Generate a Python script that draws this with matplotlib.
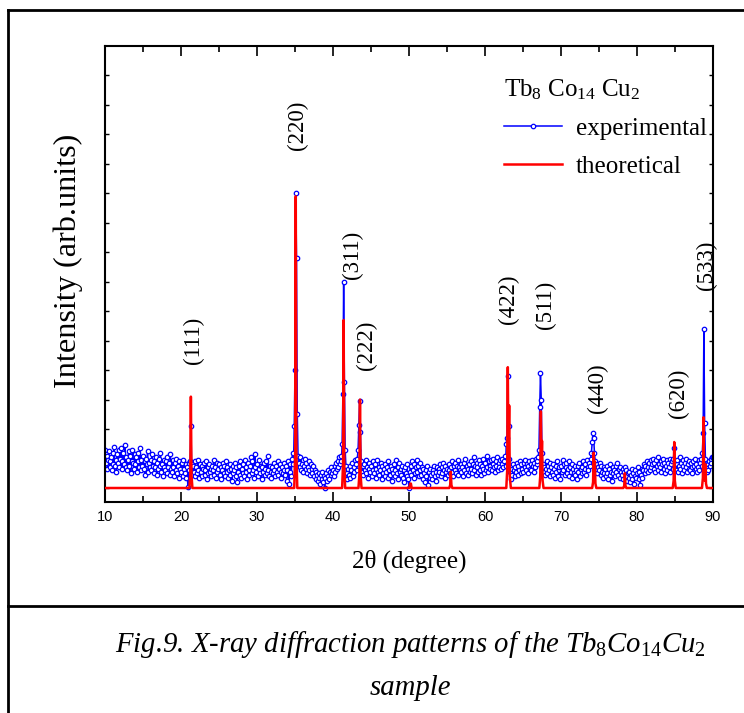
import numpy as np
import matplotlib
matplotlib.use("Agg")
import matplotlib.pyplot as plt
from matplotlib.lines import Line2D

plt.rcParams['font.family'] = ['Liberation Serif', 'DejaVu Serif']
plt.rcParams['mathtext.fontset'] = 'custom'
plt.rcParams['mathtext.rm'] = 'Liberation Serif'
plt.rcParams['mathtext.it'] = 'Liberation Serif:italic'

# experimental pattern, 2theta from 10 to 90 in 0.1 degree steps
exp_start, exp_step = 10.0, 0.1
exp_y = [
    1.30, 0.85, 1.10, 0.65, 0.95, 1.25, 0.70, 0.90, 1.05, 0.60,
    1.20, 0.80, 1.40, 0.75, 0.95, 0.55, 1.15, 0.85, 1.30, 0.70,
    1.00, 1.35, 0.65, 0.90, 1.20, 0.80, 1.45, 0.70, 1.05, 0.60,
    0.95, 1.25, 0.75, 1.10, 0.50, 0.90, 1.30, 0.85, 0.65, 1.15,
    0.80, 1.05, 0.55, 1.20, 0.90, 0.70, 1.35, 0.60, 0.95, 0.75,
    1.10, 0.65, 0.90, 0.45, 1.00, 0.80, 1.25, 0.55, 0.85, 0.70,
    0.95, 0.60, 1.15, 0.75, 0.50, 0.90, 0.70, 1.05, 0.45, 0.85,
    0.65, 1.00, 0.75, 1.20, 0.55, 0.80, 0.40, 0.95, 0.70, 0.60,
    0.90, 0.50, 1.05, 0.70, 0.85, 0.45, 1.15, 0.65, 0.55, 0.95,
    0.70, 0.40, 0.85, 0.60, 1.00, 0.50, 0.75, 0.35, 0.90, 0.65,
    0.55, 0.85, 0.40, 0.95, 0.65, 0.50, 0.80, 0.35, 0.70, 0.05,
    0.60, 0.85, 0.90, 2.10, 0.80, 0.45, 0.75, 0.55, 0.90, 0.40,
    0.70, 0.50, 0.95, 0.60, 0.35, 0.80, 0.55, 0.75, 0.40, 0.65,
    0.85, 0.45, 0.60, 0.90, 0.30, 0.70, 0.50, 0.80, 0.55, 0.65,
    0.40, 0.75, 0.60, 0.95, 0.45, 0.70, 0.35, 0.85, 0.55, 0.65,
    0.80, 0.45, 0.70, 0.30, 0.60, 0.85, 0.50, 0.75, 0.40, 0.90,
    0.55, 0.70, 0.35, 0.60, 0.80, 0.45, 0.65, 0.25, 0.75, 0.50,
    0.60, 0.85, 0.40, 0.70, 0.20, 0.55, 0.75, 0.45, 0.90, 0.35,
    0.65, 0.50, 0.80, 0.40, 0.95, 0.55, 0.70, 0.30, 0.85, 0.60,
    0.45, 0.75, 1.05, 0.50, 0.90, 0.60, 0.35, 1.15, 0.70, 0.55,
    0.80, 0.40, 0.65, 0.95, 0.50, 0.75, 0.30, 0.70, 0.55, 0.85,
    0.45, 0.65, 0.90, 0.50, 1.10, 0.60, 0.40, 0.75, 0.55, 0.35,
    0.70, 0.50, 0.85, 0.60, 0.40, 0.75, 0.55, 0.90, 0.45, 0.65,
    0.80, 0.55, 0.35, 0.70, 0.50, 0.60, 0.85, 0.45, 0.75, 0.25,
    0.60, 0.90, 0.15, 0.55, 0.80, 0.40, 1.00, 1.20, 0.80, 2.10,
    4.00, 10.0, 7.80, 2.50, 1.10, 0.85, 0.70, 1.05, 0.60, 0.80,
    0.95, 0.55, 0.75, 1.00, 0.65, 0.85, 0.50, 0.70, 0.90, 0.60,
    0.45, 0.80, 0.65, 0.50, 0.75, 0.40, 0.60, 0.30, 0.55, 0.45,
    0.25, 0.50, 0.35, 0.15, 0.45, 0.30, 0.55, 0.20, 0.40, 0.00,
    0.35, 0.50, 0.25, 0.60, 0.40, 0.30, 0.55, 0.45, 0.70, 0.50,
    0.60, 0.40, 0.75, 0.55, 0.85, 0.65, 0.90, 0.70, 1.05, 0.80,
    1.10, 0.90, 1.50, 3.20, 7.00, 3.60, 1.30, 0.75, 0.50, 0.30,
    0.65, 0.45, 0.75, 0.35, 0.60, 0.85, 0.40, 0.70, 0.55, 0.95,
    0.80, 0.60, 1.00, 1.30, 2.15, 2.95, 1.90, 0.90, 0.55, 0.75,
    0.45, 0.80, 0.60, 0.95, 0.50, 0.70, 0.35, 0.85, 0.65, 0.55,
    0.75, 0.40, 0.90, 0.60, 0.50, 0.80, 0.35, 0.65, 0.95, 0.55,
    0.70, 0.45, 0.60, 0.85, 0.30, 0.75, 0.50, 0.65, 0.40, 0.80,
    0.55, 0.70, 0.35, 0.90, 0.60, 0.45, 0.75, 0.25, 0.65, 0.50,
    0.80, 0.40, 0.60, 0.95, 0.50, 0.70, 0.30, 0.85, 0.55, 0.65,
    0.45, 0.75, 0.35, 0.60, 0.20, 0.70, 0.50, 0.80, 0.40, 0.30,
    0.00, 0.55, 0.75, 0.45, 0.90, 0.60, 0.35, 0.80, 0.50, 0.70,
    0.95, 0.55, 0.75, 0.40, 0.85, 0.60, 0.45, 0.70, 0.30, 0.65,
    0.50, 0.20, 0.60, 0.40, 0.75, 0.10, 0.55, 0.35, 0.65, 0.45,
    0.30, 0.60, 0.50, 0.75, 0.40, 0.55, 0.25, 0.70, 0.45, 0.65,
    0.55, 0.80, 0.40, 0.70, 0.50, 0.85, 0.60, 0.35, 0.75, 0.55,
    0.65, 0.45, 0.80, 0.60, 0.50, 0.70, 0.90, 0.55, 0.40, 0.75,
    0.60, 0.85, 0.50, 0.75, 0.95, 0.45, 0.70, 0.60, 0.80, 0.55,
    0.70, 0.40, 0.85, 0.60, 1.00, 0.50, 0.75, 0.65, 0.45, 0.80,
    0.55, 0.90, 0.65, 0.50, 0.80, 1.05, 0.60, 0.75, 0.45, 0.85,
    0.70, 0.55, 0.95, 0.60, 0.80, 0.45, 0.75, 1.00, 0.65, 0.50,
    0.85, 0.60, 1.10, 0.70, 0.55, 0.90, 0.75, 0.65, 0.95, 0.60,
    0.80, 1.00, 0.70, 0.55, 0.90, 0.75, 1.05, 0.60, 0.85, 0.70,
    0.95, 0.65, 0.80, 1.00, 0.70, 0.90, 1.10, 0.75, 1.50, 1.70,
    3.80, 2.10, 1.00, 0.55, 0.30, 0.65, 0.45, 0.80, 0.60, 0.40,
    0.70, 0.55, 0.85, 0.45, 0.75, 0.60, 0.90, 0.50, 0.80, 0.65,
    0.55, 0.85, 0.70, 0.95, 0.60, 0.80, 0.50, 0.75, 0.90, 0.65,
    0.80, 0.60, 0.95, 0.75, 0.55, 0.85, 0.70, 1.00, 0.80, 0.90,
    1.05, 1.30, 2.75, 3.90, 3.00, 1.20, 0.80, 0.55, 0.70, 0.45,
    0.65, 0.90, 0.50, 0.75, 0.60, 0.85, 0.40, 0.70, 0.55, 0.80,
    0.45, 0.65, 0.35, 0.75, 0.55, 0.90, 0.40, 0.60, 0.70, 0.30,
    0.75, 0.55, 0.95, 0.60, 0.80, 0.45, 0.70, 0.85, 0.50, 0.65,
    0.90, 0.40, 0.70, 0.55, 0.80, 0.35, 0.65, 0.50, 0.75, 0.45,
    0.60, 0.30, 0.75, 0.55, 0.85, 0.40, 0.65, 0.50, 0.70, 0.90,
    0.55, 0.80, 0.65, 0.45, 0.95, 0.70, 0.60, 0.85, 0.75, 1.00,
    1.20, 1.55, 1.86, 1.70, 1.20, 0.90, 0.65, 0.80, 0.50, 0.70,
    0.60, 0.85, 0.45, 0.75, 0.55, 0.35, 0.70, 0.50, 0.65, 0.40,
    0.75, 0.50, 0.30, 0.65, 0.45, 0.80, 0.55, 0.25, 0.70, 0.50,
    0.60, 0.40, 0.75, 0.55, 0.85, 0.45, 0.65, 0.35, 0.70, 0.55,
    0.45, 0.65, 0.30, 0.55, 0.70, 0.40, 0.60, 0.25, 0.50, 0.35,
    0.55, 0.20, 0.45, 0.65, 0.30, 0.50, 0.15, 0.40, 0.60, 0.35,
    0.50, 0.70, 0.30, 0.55, 0.10, 0.45, 0.65, 0.35, 0.60, 0.80,
    0.50, 0.75, 0.60, 0.90, 0.55, 0.70, 0.85, 0.60, 0.95, 0.70,
    0.80, 1.00, 0.65, 0.85, 0.55, 0.95, 0.75, 1.05, 0.60, 0.80,
    0.70, 0.90, 0.55, 0.80, 1.00, 0.65, 0.85, 0.50, 0.75, 0.95,
    0.60, 0.85, 0.70, 1.00, 0.55, 0.80, 0.90, 0.65, 1.00, 1.35,
    0.90, 0.60, 0.80, 0.95, 0.55, 0.75, 1.05, 0.65, 0.85, 0.50,
    0.75, 0.95, 0.60, 0.85, 0.70, 1.00, 0.55, 0.80, 0.65, 0.90,
    0.60, 0.85, 0.70, 0.50, 0.90, 0.75, 1.00, 0.65, 0.80, 0.55,
    0.70, 0.95, 0.60, 0.85, 1.00, 0.75, 1.20, 1.86, 5.40, 2.20,
    1.00, 0.70, 0.55, 0.80, 0.60, 0.90, 0.75, 1.00, 0.85, 1.05,
    1.05,
]
exp_x = exp_start + exp_step * np.arange(len(exp_y))

# theoretical pattern, points read at the base and top of each peak
th_x = [10.0,
        21.10, 21.22, 21.30, 21.38, 21.50,
        34.90, 35.02, 35.10, 35.18, 35.30,
        41.20, 41.32, 41.40, 41.48, 41.60,
        43.35, 43.47, 43.55, 43.63, 43.75,
        50.05, 50.15, 50.25, 50.35,
        55.30, 55.42, 55.50, 55.58, 55.70,
        62.80, 62.92, 63.00, 63.08, 63.18, 63.26, 63.40,
        67.15, 67.27, 67.35, 67.43, 67.50, 67.58, 67.70,
        74.10, 74.22, 74.30, 74.37, 74.45, 74.53, 74.65,
        78.20, 78.32, 78.40, 78.48, 78.60,
        84.70, 84.82, 84.90, 84.98, 85.10,
        88.55, 88.67, 88.75, 88.83, 88.92, 89.00, 89.08, 89.20,
        90.0]
th_y = [0.0,
        0.0, 0.45, 3.10, 0.45, 0.0,
        0.0, 1.20, 9.90, 1.20, 0.0,
        0.0, 0.80, 5.70, 0.80, 0.0,
        0.0, 0.45, 3.00, 0.45, 0.0,
        0.0, 0.15, 0.15, 0.0,
        0.0, 0.10, 0.55, 0.10, 0.0,
        0.0, 0.60, 4.10, 1.00, 2.80, 0.40, 0.0,
        0.0, 0.40, 2.60, 0.90, 1.60, 0.25, 0.0,
        0.0, 0.20, 1.20, 0.50, 0.90, 0.15, 0.0,
        0.0, 0.08, 0.50, 0.08, 0.0,
        0.0, 0.25, 1.56, 0.25, 0.0,
        0.0, 0.35, 2.40, 0.40, 0.25, 0.80, 0.15, 0.0,
        0.0]

# Miller index labels and where they sit
hkl = ['(111)', '(220)', '(311)', '(222)', '(422)', '(511)', '(440)', '(620)', '(533)']
hkl_x = [21.7, 35.3, 42.55, 44.4, 63.1, 68.0, 74.85, 85.4, 89.1]
hkl_y = [5.0, 12.3, 7.9, 4.85, 6.4, 6.2, 3.4, 3.2, 7.55]

W, H = 744, 713
fig = plt.figure(figsize=(W / 100, H / 100), dpi=100)
ax = fig.add_axes([105 / W, 1 - 502 / H, 608 / W, 456 / H])

ax.plot(exp_x, exp_y, color='#0000ff', lw=1.1, marker='o', ms=3.2,
        mfc='white', mec='#0000ff', mew=0.9, label='experimental', zorder=2)
ax.plot(th_x, th_y, color='#ff0000', lw=1.8, label='theoretical', zorder=3)

for t, x, y in zip(hkl, hkl_x, hkl_y):
    ax.text(x, y, t, rotation=90, ha='center', va='center', fontsize=16.5)

ax.set_xlim(10, 90)
ax.set_ylim(-0.475, 15.0)
ax.set_xticks(np.arange(10, 91, 10))
ax.set_xticks(np.arange(15, 90, 10), minor=True)
ax.set_yticks(np.arange(0, 15, 1))
ax.set_yticklabels([])
ax.tick_params(axis='x', which='major', direction='in', length=7, width=1.2,
               top=True, labelsize=10.5, pad=6)
ax.tick_params(axis='x', which='minor', direction='in', length=4, width=1.2, top=True)
ax.tick_params(axis='y', which='major', direction='in', length=3, width=1.0, right=True)
for lab in ax.get_xticklabels():
    lab.set_family(['Liberation Sans', 'DejaVu Sans'])
for sp in ax.spines.values():
    sp.set_linewidth(1.5)

fig.text(409 / W, 1 - 561 / H, '2θ (degree)', ha='center', va='center', fontsize=18)
fig.text(68 / W, 1 - 261 / H, 'Intensity (arb.units)', ha='center', va='center',
         rotation=90, fontsize=23.2)

leg = ax.legend(loc='upper left', bbox_to_anchor=(0.62, 0.98), frameon=False,
                title=r'Tb$_8$ Co$_{14}$ Cu$_2$', title_fontsize=18, fontsize=18,
                handlelength=2.3, handletextpad=0.55, labelspacing=0.62,
                alignment='left', numpoints=1)

# frame of the figure table
lw = 2.0
fig.add_artist(Line2D([8 / W, 8 / W], [0, 1 - 10 / H], color='black', lw=lw))
fig.add_artist(Line2D([8 / W, 1], [1 - 10 / H, 1 - 10 / H], color='black', lw=lw))
fig.add_artist(Line2D([8 / W, 1], [1 - 606 / H, 1 - 606 / H], color='black', lw=lw))

fig.text(410 / W, 1 - 645 / H,
         r'Fig.9. X-ray diffraction patterns of the $\mathit{Tb_8Co_{14}Cu_2}$',
         ha='center', va='center', fontsize=20.7, style='italic')
fig.text(410 / W, 1 - 688 / H, 'sample', ha='center', va='center',
         fontsize=20.7, style='italic')

fig.savefig('out.png', dpi=100)
